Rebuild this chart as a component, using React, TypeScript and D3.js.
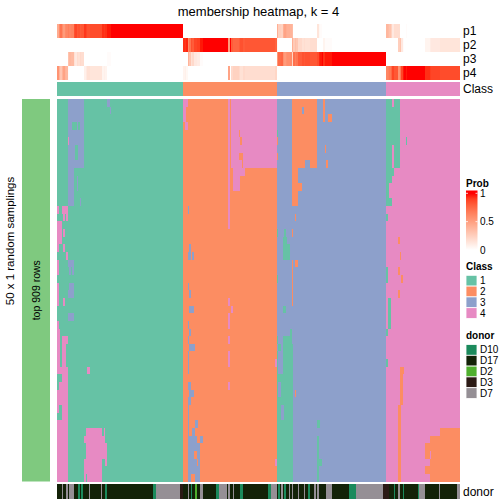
import React from 'react';
import * as d3 from 'd3';

const N_ROWS = 50;
const CLASS_RUNS: [number, number][] = [[1, 84], [2, 62], [3, 73], [4, 49]];
const CLASS_LABELS = [1, 2, 3, 4];
const CLASS_COLORS = ['#66C2A5', '#FC8D62', '#8DA0CB', '#E78AC3'];
const PROB_LABELS = ['p1', 'p2', 'p3', 'p4'];
const PROB_TICKS = [0, 0.5, 1];
const DONOR_LABELS = ['D10', 'D17', 'D2', 'D3', 'D7'];
const DONOR_COLORS = ['#1B8A5C', '#132208', '#4FAF2E', '#2B1A15', '#958F95'];

// [class, colStart, colEnd, rowStart, rowEnd] (inclusive)
const PATCHES: [number, number, number, number, number][] = [
  // class 1 block
  [3, 7, 17, 0, 8], [1, 10, 12, 3, 3], [1, 14, 14, 3, 3], [1, 12, 13, 6, 7], [4, 7, 7, 5, 5],
  [3, 7, 10, 9, 13], [3, 13, 13, 10, 11], [3, 15, 15, 13, 13], [3, 33, 34, 0, 0], [3, 35, 35, 1, 1],
  [4, 0, 0, 14, 14], [4, 3, 6, 14, 14], [4, 4, 4, 15, 15], [4, 6, 6, 15, 15], [4, 1, 2, 16, 18],
  [4, 0, 0, 16, 19], [4, 4, 4, 17, 17], [4, 4, 4, 19, 19], [4, 6, 6, 20, 20], [4, 0, 0, 21, 22],
  [3, 7, 10, 21, 21], [3, 8, 8, 22, 22], [3, 10, 10, 22, 22], [3, 8, 10, 24, 24], [3, 7, 10, 25, 25],
  [4, 0, 0, 24, 26], [4, 4, 4, 26, 26], [3, 7, 10, 28, 28], [4, 0, 0, 29, 29], [4, 0, 1, 30, 34],
  [4, 3, 5, 31, 34], [4, 6, 6, 31, 31], [4, 0, 6, 35, 49], [1, 0, 2, 36, 36], [1, 0, 0, 37, 37],
  [1, 1, 2, 40, 41], [1, 0, 1, 41, 41], [4, 20, 21, 35, 35], [4, 19, 29, 43, 43], [4, 31, 31, 43, 43],
  [4, 18, 31, 44, 44], [4, 19, 32, 45, 46], [4, 18, 29, 47, 49], [4, 32, 32, 47, 47], [1, 19, 19, 49, 49],
  // class 2 block
  [4, 84, 86, 0, 0], [4, 84, 85, 1, 2], [4, 85, 86, 3, 3], [4, 114, 114, 0, 16], [4, 116, 145, 0, 8],
  [2, 121, 121, 4, 4], [2, 122, 122, 5, 5], [2, 121, 123, 7, 7], [2, 123, 123, 8, 8], [4, 117, 124, 9, 9],
  [4, 117, 121, 10, 11], [3, 87, 87, 14, 14], [3, 88, 88, 19, 19], [3, 87, 88, 20, 20], [3, 90, 90, 20, 20],
  [3, 87, 87, 24, 24], [3, 88, 88, 25, 25], [3, 88, 90, 27, 27], [3, 87, 87, 29, 29], [3, 88, 88, 30, 30],
  [3, 87, 87, 31, 31], [3, 88, 91, 32, 32], [3, 87, 87, 33, 35], [3, 87, 88, 37, 37], [3, 88, 90, 38, 38],
  [3, 87, 88, 39, 39], [3, 87, 87, 40, 49], [3, 92, 93, 42, 42], [3, 90, 91, 43, 43], [3, 87, 92, 44, 44],
  [3, 95, 96, 44, 44], [3, 87, 94, 45, 49], [2, 91, 92, 46, 46], [2, 93, 93, 47, 47], [2, 89, 91, 49, 49],
  [4, 114, 114, 26, 26], [4, 114, 114, 28, 29], [4, 114, 114, 31, 31], [4, 114, 114, 33, 34],
  [4, 114, 114, 37, 37], [4, 116, 116, 27, 27], [4, 145, 145, 34, 34], [4, 145, 145, 47, 47],
  // class 3 block
  [2, 156, 172, 0, 7], [3, 163, 163, 1, 1], [2, 156, 164, 8, 8], [2, 168, 172, 8, 8], [2, 156, 159, 9, 13],
  [2, 160, 162, 11, 11], [2, 177, 177, 0, 2], [2, 180, 182, 2, 2], [2, 178, 178, 6, 6], [2, 179, 179, 8, 8],
  [2, 146, 146, 5, 5], [2, 146, 146, 7, 7], [1, 146, 146, 4, 4], [2, 158, 158, 15, 15], [1, 151, 151, 17, 17],
  [1, 150, 152, 18, 18], [1, 150, 154, 19, 20], [1, 150, 151, 27, 27], [1, 155, 155, 30, 31], [1, 150, 154, 31, 31],
  [1, 146, 146, 17, 17], [1, 146, 146, 23, 23], [2, 156, 156, 17, 17], [2, 156, 156, 21, 21], [2, 158, 159, 21, 21],
  [2, 156, 156, 22, 26], [1, 146, 146, 31, 31], [1, 147, 148, 32, 32], [1, 150, 156, 32, 32], [1, 146, 156, 33, 49],
  [3, 147, 149, 33, 35], [3, 147, 148, 37, 38], [3, 149, 150, 40, 41], [2, 158, 158, 38, 38], [1, 173, 174, 42, 42],
  [1, 173, 173, 44, 49], [1, 174, 175, 47, 47],
  // class 4 block
  [1, 219, 227, 0, 8], [4, 223, 223, 0, 0], [4, 223, 223, 6, 8], [1, 219, 223, 9, 9], [1, 219, 222, 10, 10],
  [1, 219, 220, 11, 12], [1, 219, 222, 13, 13], [1, 219, 219, 15, 15], [1, 232, 232, 5, 5], [1, 219, 219, 22, 23],
  [1, 220, 221, 26, 29], [1, 219, 219, 30, 30], [1, 219, 219, 34, 34], [2, 227, 227, 18, 18], [2, 228, 228, 20, 20],
  [2, 227, 227, 22, 22], [2, 229, 229, 23, 23], [2, 227, 227, 25, 25], [2, 228, 230, 35, 35], [2, 228, 229, 36, 39],
  [2, 227, 228, 40, 49], [2, 255, 267, 43, 43], [2, 248, 267, 44, 49], [2, 245, 247, 45, 46], [2, 245, 247, 48, 48],
  [4, 248, 248, 46, 46],
];

const DONOR_RUNS: [string, number][] = [
  ['D17', 3], ['D7', 1], ['D17', 2], ['D7', 1], ['D17', 1], ['D7', 3], ['D17', 3], ['D10', 1], ['D17', 1],
  ['D10', 1], ['D17', 4], ['D7', 1], ['D17', 7], ['D7', 1], ['D17', 2], ['D10', 1], ['D17', 31], ['D10', 2],
  ['D7', 16], ['D3', 2], ['D17', 3], ['D7', 1], ['D17', 1], ['D10', 1], ['D17', 2], ['D2', 1], ['D17', 2],
  ['D7', 2], ['D17', 9], ['D10', 2], ['D7', 5], ['D17', 1], ['D7', 1], ['D17', 2], ['D7', 1], ['D17', 4],
  ['D10', 2], ['D17', 16], ['D10', 2], ['D7', 4], ['D17', 1], ['D10', 1], ['D17', 1], ['D7', 1], ['D17', 1],
  ['D10', 1], ['D17', 2], ['D7', 1], ['D17', 1], ['D7', 1], ['D17', 3], ['D7', 1], ['D17', 3], ['D7', 1],
  ['D17', 2], ['D10', 1], ['D17', 3], ['D7', 1], ['D17', 1], ['D7', 1], ['D17', 5], ['D7', 4], ['D17', 11],
  ['D10', 5], ['D7', 18], ['D3', 4], ['D17', 3], ['D10', 1], ['D17', 2], ['D7', 1], ['D17', 2], ['D10', 1],
  ['D17', 9], ['D10', 1], ['D7', 4], ['D17', 9], ['D7', 1], ['D17', 11], ['D7', 2],
];

function runs<T>(arr: T[]): { v: T; s: number; e: number }[] {
  const out: { v: T; s: number; e: number }[] = [];
  arr.forEach((v, i) => {
    const last = out[out.length - 1];
    if (last && last.v === v) last.e = i + 1;
    else out.push({ v, s: i, e: i + 1 });
  });
  return out;
}

const FONT = '"Liberation Sans", Arial, Helvetica, sans-serif';

export default function App() {
  const nCols = d3.sum(CLASS_RUNS, (d) => d[1]);
  const colClass: number[] = CLASS_RUNS.flatMap(([c, n]) => d3.range(n).map(() => c));
  const matrix: number[][] = d3.range(N_ROWS).map(() => colClass.slice());
  for (const [c, c0, c1, r0, r1] of PATCHES) {
    for (let r = r0; r <= r1; r++) for (let j = c0; j <= c1; j++) if (j < nCols) matrix[r][j] = c;
  }
  const donors: string[] = DONOR_RUNS.flatMap(([d, n]) => d3.range(n).map(() => d));
  const probs = CLASS_LABELS.map((k) =>
    d3.range(nCols).map((j) => d3.sum(matrix, (row) => (row[j] === k ? 1 : 0)) / N_ROWS)
  );

  const x = d3.scaleLinear().domain([0, nCols]).range([57, 460]);
  const y = d3.scaleLinear().domain([0, N_ROWS]).range([99, 481.5]);
  const yP = d3.scaleBand<string>().domain(PROB_LABELS).range([24, 80.3]);
  const classY = [81.7, 96];
  const donorY = [484, 499];
  const probColor = d3
    .scaleLinear<string>()
    .domain([0, 1])
    .range(['#FFFFFF', '#FF0000'])
    .interpolate(d3.interpolateLab);
  const classColor = d3.scaleOrdinal<number, string>().domain(CLASS_LABELS).range(CLASS_COLORS);
  const donorColor = d3.scaleOrdinal<string, string>().domain(DONOR_LABELS).range(DONOR_COLORS);
  const yLeg = d3.scaleLinear().domain([0, 1]).range([250, 193.3]);
  const legStep = 10.8;

  return (
    <svg
      width={504}
      height={504}
      style={{ position: 'absolute', left: 0, top: 0, background: '#fff' }}
      fontFamily={FONT}
    >
      <defs>
        <linearGradient id="probGrad" gradientUnits="userSpaceOnUse" x1={0} y1={yLeg(0)} x2={0} y2={yLeg(1)}>
          {d3.range(0, 1.0001, 0.1).map((t) => (
            <stop key={t} offset={t} stopColor={probColor(t)} />
          ))}
        </linearGradient>
      </defs>
      <rect x={0} y={0} width={504} height={504} fill="#fff" />
      <text x={258.5} y={16} textAnchor="middle" fontSize={13}>
        membership heatmap, k = 4
      </text>

      {/* probability annotation rows */}
      {PROB_LABELS.map((lab, k) => (
        <g key={lab}>
          {runs(probs[k]).map((r, i) => (
            <rect
              key={i}
              x={x(r.s)}
              y={yP(lab)}
              width={x(r.e) - x(r.s)}
              height={yP.bandwidth()}
              fill={probColor(r.v)}
              shapeRendering="crispEdges"
            />
          ))}
          <text x={463} y={(yP(lab) as number) + yP.bandwidth() / 2} dominantBaseline="central" fontSize={12}>
            {lab}
          </text>
        </g>
      ))}

      {/* class annotation */}
      {runs(colClass).map((r, i) => (
        <rect
          key={i}
          x={x(r.s)}
          y={classY[0]}
          width={x(r.e) - x(r.s)}
          height={classY[1] - classY[0]}
          fill={classColor(r.v)}
          shapeRendering="crispEdges"
        />
      ))}
      <text x={463} y={(classY[0] + classY[1]) / 2} dominantBaseline="central" fontSize={12}>
        Class
      </text>

      {/* main heatmap */}
      {matrix.map((row, ri) =>
        runs(row).map((r, i) => (
          <rect
            key={ri + '-' + i}
            x={x(r.s)}
            y={y(ri)}
            width={x(r.e) - x(r.s)}
            height={y(ri + 1) - y(ri)}
            fill={classColor(r.v)}
            shapeRendering="crispEdges"
          />
        ))
      )}

      {/* left block annotation */}
      <rect x={22} y={y(0)} width={28} height={y(N_ROWS) - y(0)} fill="#7FC97F" />
      <text
        transform={`translate(36,${(y(0) + y(N_ROWS)) / 2}) rotate(-90)`}
        textAnchor="middle"
        dominantBaseline="central"
        fontSize={10.5}
      >
        top 909 rows
      </text>
      <text
        transform={`translate(10,241) rotate(-90)`}
        textAnchor="middle"
        dominantBaseline="central"
        fontSize={11.5}
      >
        50 x 1 random samplings
      </text>

      {/* donor annotation */}
      {runs(donors).map((r, i) => (
        <rect
          key={i}
          x={x(r.s)}
          y={donorY[0]}
          width={x(r.e) - x(r.s)}
          height={donorY[1] - donorY[0]}
          fill={donorColor(r.v)}
          shapeRendering="crispEdges"
        />
      ))}
      <text x={463} y={(donorY[0] + donorY[1]) / 2} dominantBaseline="central" fontSize={12}>
        donor
      </text>

      {/* legends */}
      <text x={466} y={187} fontSize={10} fontWeight="bold">
        Prob
      </text>
      <rect x={466} y={190.5} width={11.5} height={61} fill="url(#probGrad)" />
      {PROB_TICKS.map((t) => (
        <g key={t}>
          <line x1={466} x2={468} y1={yLeg(t)} y2={yLeg(t)} stroke="#fff" strokeWidth={0.8} />
          <line x1={475.5} x2={477.5} y1={yLeg(t)} y2={yLeg(t)} stroke="#fff" strokeWidth={0.8} />
          <text x={480} y={yLeg(t)} dominantBaseline="central" fontSize={10}>
            {String(t)}
          </text>
        </g>
      ))}

      <text x={466} y={270} fontSize={10} fontWeight="bold">
        Class
      </text>
      {CLASS_LABELS.map((c, i) => (
        <g key={c}>
          <rect x={466} y={275.3 + i * legStep} width={11} height={legStep} fill={classColor(c)} stroke="#fff" strokeWidth={0.8} />
          <text x={480} y={275.3 + i * legStep + legStep / 2} dominantBaseline="central" fontSize={10}>
            {String(c)}
          </text>
        </g>
      ))}

      <text x={466} y={338.5} fontSize={10} fontWeight="bold">
        donor
      </text>
      {DONOR_LABELS.map((d, i) => (
        <g key={d}>
          <rect x={466} y={344.5 + i * legStep} width={11} height={legStep} fill={donorColor(d)} stroke="#fff" strokeWidth={0.8} />
          <text x={480} y={344.5 + i * legStep + legStep / 2} dominantBaseline="central" fontSize={10}>
            {d}
          </text>
        </g>
      ))}
    </svg>
  );
}
